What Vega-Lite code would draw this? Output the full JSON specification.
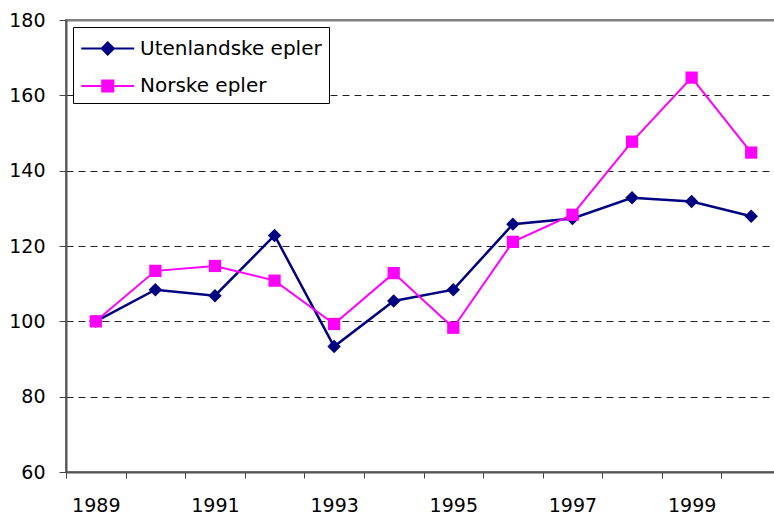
{
  "$schema": "https://vega.github.io/schema/vega-lite/v6.json",
  "width": 715,
  "height": 452,
  "autosize": "none",
  "padding": {"left": 66, "top": 20, "right": 0, "bottom": 44},
  "background": "white",
  "config": {
    "font": "DejaVu Sans",
    "view": {"stroke": "#808080", "strokeWidth": 2}
  },
  "data": {
    "values": [
      {"year": 1989, "serie": "Utenlandske epler", "value": 100},
      {"year": 1990, "serie": "Utenlandske epler", "value": 108.4},
      {"year": 1991, "serie": "Utenlandske epler", "value": 106.8},
      {"year": 1992, "serie": "Utenlandske epler", "value": 122.8},
      {"year": 1993, "serie": "Utenlandske epler", "value": 93.3},
      {"year": 1994, "serie": "Utenlandske epler", "value": 105.4},
      {"year": 1995, "serie": "Utenlandske epler", "value": 108.4},
      {"year": 1996, "serie": "Utenlandske epler", "value": 125.8},
      {"year": 1997, "serie": "Utenlandske epler", "value": 127.3},
      {"year": 1998, "serie": "Utenlandske epler", "value": 132.8},
      {"year": 1999, "serie": "Utenlandske epler", "value": 131.8},
      {"year": 2000, "serie": "Utenlandske epler", "value": 127.9},
      {"year": 1989, "serie": "Norske epler", "value": 100},
      {"year": 1990, "serie": "Norske epler", "value": 113.4},
      {"year": 1991, "serie": "Norske epler", "value": 114.7},
      {"year": 1992, "serie": "Norske epler", "value": 110.8},
      {"year": 1993, "serie": "Norske epler", "value": 99.3},
      {"year": 1994, "serie": "Norske epler", "value": 112.8},
      {"year": 1995, "serie": "Norske epler", "value": 98.3},
      {"year": 1996, "serie": "Norske epler", "value": 121.1},
      {"year": 1997, "serie": "Norske epler", "value": 128.3},
      {"year": 1998, "serie": "Norske epler", "value": 147.7},
      {"year": 1999, "serie": "Norske epler", "value": 164.7},
      {"year": 2000, "serie": "Norske epler", "value": 144.8}
    ]
  },
  "encoding": {
    "x": {
      "field": "year",
      "type": "ordinal",
      "scale": {"paddingInner": 0, "paddingOuter": 0},
      "axis": {
        "title": null,
        "labelAngle": 0,
        "labelExpr": "toNumber(datum.value) % 2 === 1 ? datum.label : ''",
        "tickBand": "extent",
        "tickSize": 6,
        "tickColor": "#444444",
        "domainColor": "#555555",
        "domainWidth": 2,
        "labelFont": "DejaVu Sans",
        "labelFontSize": 19,
        "labelColor": "black",
        "labelPadding": 18,
        "grid": false
      }
    },
    "y": {
      "field": "value",
      "type": "quantitative",
      "scale": {"domain": [60, 180], "nice": false, "zero": false},
      "axis": {
        "title": null,
        "values": [60, 80, 100, 120, 140, 160, 180],
        "tickSize": 7,
        "tickColor": "#444444",
        "domainColor": "#555555",
        "domainWidth": 2,
        "labelFont": "DejaVu Sans",
        "labelFontSize": 19,
        "labelColor": "black",
        "labelPadding": 14,
        "grid": true,
        "gridColor": {"condition": {"test": "datum.value >= 180", "value": "#808080"}, "value": "#222222"},
        "gridDash": {"condition": {"test": "datum.value >= 180", "value": []}, "value": [7, 5]},
        "gridWidth": {"condition": {"test": "datum.value >= 180", "value": 2}, "value": 1}
      }
    },
    "color": {
      "field": "serie",
      "type": "nominal",
      "sort": ["Utenlandske epler", "Norske epler"],
      "scale": {"domain": ["Utenlandske epler", "Norske epler"], "range": ["#000080", "#FF00FF"]},
      "legend": {
        "title": null,
        "orient": "none",
        "legendX": 7,
        "legendY": 7,
        "strokeColor": "black",
        "fillColor": "white",
        "padding": 7,
        "labelFontSize": 20,
        "labelLimit": 400,
        "labelColor": "black",
        "labelFont": "DejaVu Sans",
        "symbolSize": 702,
        "labelOffset": 31,
        "rowPadding": 12.5,
        "symbolStrokeWidth": 2,
        "symbolOpacity": 1,
        "encode": {
          "symbols": {
            "update": {
              "shape": {"signal": "datum.value === 'Norske epler' ? 'M-1,0H3M0.58,-0.42H1.42V0.42H0.58Z' : 'M-1,0H3M1,-0.46L1.46,0L1,0.46L0.54,0Z'"},
              "fill": {"scale": "color", "field": "value"},
              "stroke": {"scale": "color", "field": "value"}
            }
          }
        }
      }
    }
  },
  "layer": [
    {
      "mark": {"type": "line"},
      "encoding": {
        "strokeWidth": {"condition": {"test": "datum.serie === 'Utenlandske epler'", "value": 2.5}, "value": 2}
      }
    },
    {
      "mark": {"type": "point", "filled": true, "opacity": 1},
      "encoding": {
        "shape": {"condition": {"test": "datum.serie === 'Norske epler'", "value": "square"}, "value": "diamond"},
        "size": {"condition": {"test": "datum.serie === 'Norske epler'", "value": 150}, "value": 180}
      }
    }
  ]
}
